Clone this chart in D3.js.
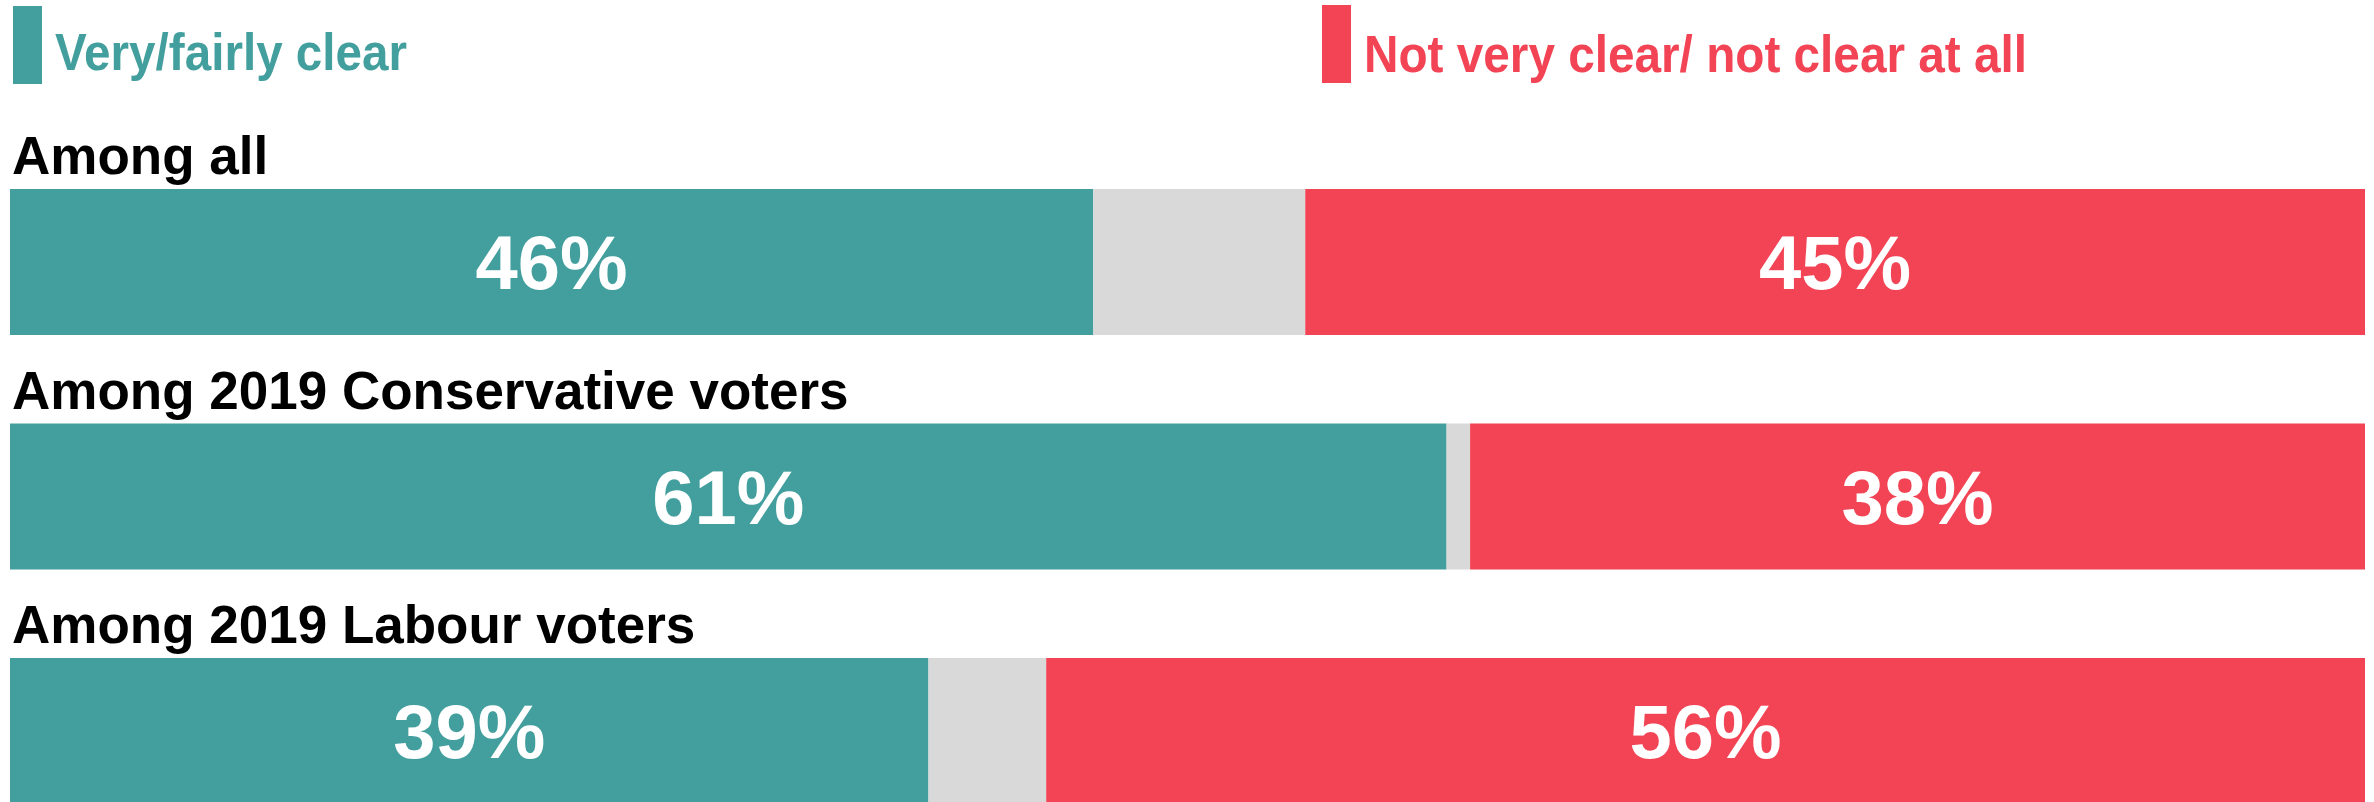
<!DOCTYPE html>
<html>
<head>
<meta charset="utf-8">
<script src="https://cdn.jsdelivr.net/npm/d3@7"></script>
<style>
  html, body { margin: 0; padding: 0; background: #ffffff; }
  svg { display: block; }
  text { font-family: "Liberation Sans", Arial, sans-serif; font-weight: bold; }
</style>
</head>
<body>
<script>
// Survey groups and the shares for each answer (percent)
const groups = ["Among all", "Among 2019 Conservative voters", "Among 2019 Labour voters"];
const clearShare = [46, 61, 39];      // Very/fairly clear
const unclearShare = [45, 38, 56];    // Not very clear/ not clear at all
const seriesNames = ["Very/fairly clear", "Not very clear/ not clear at all"];

const W = 2374, H = 802;
const colors = { clear: "#429f9e", unclear: "#f24455", other: "#d9d9d9" };

const svg = d3.select("body").append("svg")
  .attr("width", W).attr("height", H);

// Rows built from the arrays: clear segment, remainder (don't know), unclear segment
const rows = groups.map((g, i) => {
  const c = clearShare[i], u = unclearShare[i];
  return {
    group: g,
    segments: [
      { key: "clear", x0: 0, x1: c, value: c },
      { key: "other", x0: c, x1: 100 - u, value: 100 - c - u },
      { key: "unclear", x0: 100 - u, x1: 100, value: u }
    ]
  };
});

const x = d3.scaleLinear().domain([0, 100]).range([10, 2365]);
const y = d3.scaleBand().domain(groups).range([189, 804]).paddingInner(0.3774);

// Legend
const legend = [
  { name: seriesNames[0], color: colors.clear, sx: 13, tx: 55, ty: 70, sy: 6, len: 352 },
  { name: seriesNames[1], color: colors.unclear, sx: 1322, tx: 1364, ty: 72, sy: 5, len: 663 }
];
const lg = svg.append("g").attr("class", "legend");
legend.forEach(l => {
  lg.append("rect").attr("x", l.sx).attr("y", l.sy).attr("width", 29).attr("height", 78)
    .attr("fill", l.color);
  lg.append("text").attr("x", l.tx).attr("y", l.ty)
    .attr("font-size", 52).attr("fill", l.color)
    .attr("textLength", l.len).attr("lengthAdjust", "spacingAndGlyphs")
    .text(l.name);
});

// Bars
const row = svg.selectAll("g.row").data(rows).join("g").attr("class", "row");

row.append("text")
  .attr("x", 12)
  .attr("y", d => y(d.group) - 15)
  .attr("font-size", 53)
  .attr("fill", "#000")
  .text(d => d.group);

row.selectAll("rect.seg").data(d => d.segments.map(s => ({ ...s, group: d.group })))
  .join("rect")
  .attr("class", "seg")
  .attr("x", s => x(s.x0))
  .attr("y", s => y(s.group))
  .attr("width", s => x(s.x1) - x(s.x0))
  .attr("height", y.bandwidth())
  .attr("fill", s => colors[s.key]);

row.selectAll("text.val").data(d => d.segments.filter(s => s.key !== "other").map(s => ({ ...s, group: d.group })))
  .join("text")
  .attr("class", "val")
  .attr("x", s => (x(s.x0) + x(s.x1)) / 2)
  .attr("y", s => y(s.group) + y.bandwidth() / 2 + 27)
  .attr("text-anchor", "middle")
  .attr("font-size", 76)
  .attr("fill", "#ffffff")
  .text(s => s.value + "%");
</script>
</body>
</html>
